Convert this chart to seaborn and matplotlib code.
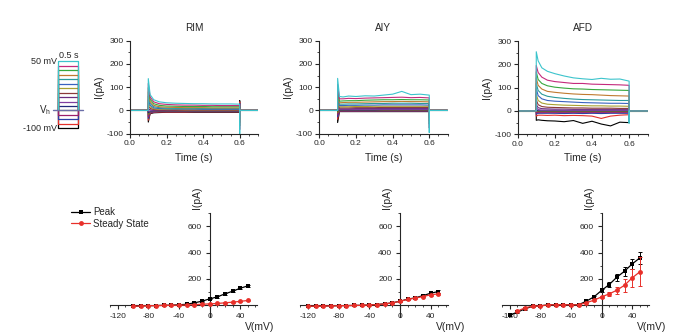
import matplotlib
matplotlib.use("Agg")
import matplotlib.pyplot as plt
import pandas as pd
import seaborn as sns
from matplotlib.ticker import MultipleLocator

sns.set_theme(style="ticks")
plt.rcParams["font.family"] = ["Liberation Sans", "DejaVu Sans"]
plt.rcParams["axes.unicode_minus"] = False

# ---------------- data ----------------
STEP_MV = [-100, -90, -80, -70, -60, -50, -40, -30, -20, -10, 0, 10, 20, 30, 40, 50]
TRACE_COLORS = ["#000000", "#e3302a", "#2c3fa8", "#9b1f6a", "#7d7a1f", "#222a7c",
                "#8040a0", "#6a2d80", "#8c3a3a", "#a8a030", "#3a62c0", "#2a9a9a",
                "#c07a30", "#36a83e", "#c42a7c", "#3cc4cc"]
HOLD_MV = -60
PANEL_TITLES = ["RIM", "AIY", "AFD"]
T_STEP = [0.1, 0.11, 0.13, 0.16, 0.2, 0.25, 0.3, 0.35, 0.4, 0.45, 0.5, 0.55, 0.6]

# current traces (pA) at T_STEP, one row per voltage step (-100 ... 50 mV)
RIM_TRACES = [
    [-50, -14, -10, -9, -8, -8, -8, -8, -8, -8, -8, -8, -8],
    [-42, -12, -8, -7, -7, -7, -7, -6, -6, -6, -6, -6, -6],
    [-34, -10, -6, -5, -5, -5, -5, -5, -5, -5, -5, -5, -5],
    [-26, -8, -5, -4, -4, -4, -4, -4, -4, -4, -4, -4, -4],
    [-18, -6, -3, -3, -3, -3, -3, -3, -3, -3, -3, -3, -3],
    [-10, -4, -2, -2, -2, -2, -2, -2, -2, -2, -2, -2, -2],
    [-3, -2, -1, -1, -1, -1, -1, -1, -1, -1, -1, -1, -1],
    [6, 3, 1, 0, 0, 0, 0, 0, 0, 0, 0, 0, 0],
    [18, 9, 4, 2, 2, 1, 1, 1, 1, 1, 1, 1, 1],
    [32, 15, 7, 5, 4, 4, 3, 3, 3, 3, 3, 3, 3],
    [46, 22, 11, 8, 7, 6, 6, 6, 5, 5, 5, 5, 5],
    [62, 30, 16, 12, 10, 9, 9, 9, 8, 8, 8, 8, 8],
    [80, 38, 22, 16, 14, 13, 12, 12, 12, 11, 11, 11, 11],
    [98, 48, 29, 22, 19, 18, 17, 17, 17, 16, 16, 16, 16],
    [116, 58, 37, 29, 26, 24, 23, 23, 22, 22, 21, 21, 21],
    [137, 68, 46, 37, 33, 31, 30, 29, 29, 28, 28, 28, 27],
]
RIM_OFF = [42, 36, 30, 25, 20, 15, 10, 5, -5, -15, -25, -38, -52, -66, -82, -100]

AIY_TRACES = [
    [-52, -5, -5, -5, -5, -5, -5, -5, -5, -5, -5, -5, -5],
    [-38, -3, -3, -3, -3, -3, -3, -3, -3, -3, -3, -3, -3],
    [-28, -2, -2, -2, -2, -2, -2, -2, -2, -2, -2, -2, -2],
    [-18, -1, -1, -1, -1, -1, 0, 0, 0, 0, 0, 0, 0],
    [-10, 0, 0, 1, 1, 1, 1, 1, 1, 1, 1, 1, 1],
    [-2, 2, 2, 2, 2, 2, 2, 3, 3, 3, 3, 3, 3],
    [6, 4, 4, 4, 4, 5, 5, 5, 5, 5, 5, 5, 5],
    [14, 7, 7, 7, 8, 8, 8, 8, 8, 8, 8, 8, 8],
    [24, 11, 11, 11, 12, 12, 12, 13, 13, 13, 13, 13, 13],
    [36, 16, 16, 16, 17, 17, 18, 18, 18, 18, 18, 18, 18],
    [48, 21, 21, 22, 22, 23, 23, 24, 24, 24, 24, 24, 23],
    [62, 27, 27, 28, 28, 29, 30, 30, 31, 31, 31, 30, 30],
    [76, 33, 34, 35, 35, 36, 37, 38, 38, 39, 38, 38, 37],
    [92, 40, 41, 42, 42, 44, 45, 46, 46, 47, 46, 46, 45],
    [112, 50, 50, 52, 51, 53, 54, 55, 56, 57, 55, 56, 54],
    [138, 60, 58, 62, 60, 63, 62, 66, 70, 82, 68, 70, 66],
]
AIY_OFF = [30, 26, 22, 18, 14, 10, 6, 2, -6, -14, -22, -32, -44, -58, -75, -95]

AFD_TRACES = [
    [-40, -38, -40, -42, -43, -46, -41, -53, -44, -56, -64, -48, -50],
    [-22, -18, -18, -19, -18, -20, -19, -20, -22, -32, -22, -18, -16],
    [-14, -10, -10, -10, -10, -11, -10, -11, -10, -11, -10, -10, -10],
    [-8, -6, -6, -6, -6, -6, -6, -6, -6, -6, -6, -6, -6],
    [-2, -2, -2, -2, -2, -2, -2, -2, -2, -2, -2, -2, -2],
    [5, 1, 1, 1, 1, 1, 1, 1, 1, 1, 1, 1, 1],
    [14, 6, 4, 4, 4, 3, 3, 3, 3, 3, 3, 3, 3],
    [28, 14, 10, 9, 8, 8, 7, 7, 7, 7, 7, 7, 7],
    [48, 27, 19, 16, 15, 14, 13, 13, 12, 12, 12, 11, 11],
    [72, 45, 34, 29, 27, 25, 24, 23, 22, 22, 21, 21, 20],
    [96, 66, 52, 45, 42, 40, 38, 36, 35, 34, 33, 33, 32],
    [118, 88, 72, 63, 58, 54, 51, 49, 48, 47, 46, 45, 45],
    [142, 110, 94, 84, 80, 76, 73, 71, 70, 68, 66, 65, 64],
    [168, 135, 118, 108, 102, 98, 95, 94, 92, 91, 90, 89, 88],
    [195, 165, 145, 132, 126, 122, 118, 118, 115, 114, 113, 112, 110],
    [254, 215, 185, 170, 160, 150, 142, 138, 135, 140, 136, 137, 128],
]
AFD_OFF = [10, 8, 6, 4, 2, 0, -2, -4, -6, -10, -14, -20, -26, -34, -42, -52]

# I-V curves
RIM_V = [-100, -90, -80, -70, -60, -50, -40, -30, -20, -10, 0, 10, 20, 30, 40, 50]
RIM_PEAK = [-8, -6, -4, -3, -1, 0, 3, 7, 18, 30, 48, 63, 86, 106, 129, 147]
RIM_PEAK_ERR = [1, 1, 1, 1, 1, 1, 1, 2, 2, 3, 4, 5, 6, 7, 8, 9]
RIM_SS = [-8, -6, -4, -3, -2, -1, 0, 2, 4, 7, 10, 13, 18, 23, 29, 36]
RIM_SS_ERR = [1, 1, 1, 1, 1, 1, 1, 1, 1, 2, 2, 2, 3, 3, 4, 4]

AIY_V = [-120, -110, -100, -90, -80, -70, -60, -50, -40, -30, -20, -10, 0, 10, 20, 30, 40, 50]
AIY_PEAK = [-8, -7, -6, -5, -4, -3, -2, -1, 1, 5, 10, 18, 30, 46, 56, 73, 91, 104]
AIY_PEAK_ERR = [1, 1, 1, 1, 1, 1, 1, 1, 1, 1, 2, 2, 3, 4, 5, 6, 8, 9]
AIY_SS = [-8, -7, -6, -5, -4, -3, -2, -1, 1, 5, 10, 18, 29, 44, 54, 66, 79, 86]
AIY_SS_ERR = [1, 1, 1, 1, 1, 1, 1, 1, 1, 1, 2, 2, 3, 4, 5, 6, 7, 8]

AFD_V = [-120, -110, -100, -90, -80, -70, -60, -50, -40, -30, -20, -10, 0, 10, 20, 30, 40, 50]
AFD_PEAK = [-76, -53, -28, -8, -5, 2, 3, 3, 3, 3, 30, 63, 112, 157, 213, 259, 314, 360]
AFD_PEAK_ERR = [6, 6, 5, 4, 3, 2, 2, 2, 2, 3, 5, 8, 12, 18, 28, 35, 40, 48]
AFD_SS_V = [-110, -100, -90, -80, -70, -60, -50, -40, -30, -20, -10, 0, 10, 20, 30, 40, 50]
AFD_SS = [-46, -20, -8, -5, 2, 3, 3, 3, 3, 18, 38, 63, 86, 114, 152, 208, 254]
AFD_SS_ERR = [5, 4, 3, 3, 2, 2, 2, 2, 2, 4, 6, 10, 16, 28, 50, 68, 110]


def trace_frame(traces, off):
    rows = []
    for k, (vals, o) in enumerate(zip(traces, off)):
        ts = [0.0, 0.1] + T_STEP + [0.6, 0.6, 0.7]
        ys = [0, 0] + list(vals) + [o, 0, 0]
        for t, y in zip(ts, ys):
            rows.append({"t": t, "I": y, "trace": k})
    return pd.DataFrame(rows)


# ---------------- figure ----------------
fig = plt.figure(figsize=(6.98, 3.36), dpi=100)
W, H = 698.0, 336.0


def px_axes(x0, y0, x1, y1):
    return fig.add_axes([x0 / W, 1 - y1 / H, (x1 - x0) / W, (y1 - y0) / H])


palette = {k: c for k, c in enumerate(TRACE_COLORS)}

# ----- protocol schematic -----
axp = px_axes(50, 55, 86, 135)
axp.set_xlim(-0.2075, 0.6925)
axp.set_ylim(-115.3, 64.6)
axp.axis("off")
prow = []
for k, v in enumerate(STEP_MV):
    for x, y in zip([0.0, 0.0, 0.5, 0.5], [HOLD_MV, v, v, HOLD_MV]):
        prow.append({"x": x, "y": y, "trace": k})
pdf = pd.DataFrame(prow)
sns.lineplot(data=pdf, x="x", y="y", hue="trace", palette=palette, estimator=None,
             sort=False, legend=False, lw=0.9, ax=axp)
hold_df = pd.DataFrame({"x": [-0.13, 0.62], "y": [HOLD_MV, HOLD_MV]})
sns.lineplot(data=hold_df, x="x", y="y", color="#6b6fa8", lw=1.0, ax=axp)
axp.text(0.25, 53, "0.5 s", ha="center", va="bottom", fontsize=6.5)
axp.text(-0.035, 49, "50 mV", ha="right", va="center", fontsize=6.5)
axp.text(-0.035, -101, "-100 mV", ha="right", va="center", fontsize=6.5)
axp.text(-0.33, -60, "V$_\\mathregular{h}$", ha="center", va="center", fontsize=7)
axp.set_xlabel("")
axp.set_ylabel("")

# ----- top row: current traces -----
top_pos = [(130, 40.7, 258, 133.7), (319.3, 40.7, 447.6, 133.7), (517.7, 41, 647.7, 134.3)]
all_traces = [(RIM_TRACES, RIM_OFF), (AIY_TRACES, AIY_OFF), (AFD_TRACES, AFD_OFF)]
for (x0, y0, x1, y1), (tr, off), title in zip(top_pos, all_traces, PANEL_TITLES):
    ax = px_axes(x0, y0, x1, y1)
    df = trace_frame(tr, off)
    sns.lineplot(data=df, x="t", y="I", hue="trace", palette=palette, estimator=None,
                 sort=False, legend=False, lw=0.8, ax=ax)
    ax.set_xlim(0, 0.7)
    ax.set_ylim(-100, 300)
    ax.set_xticks([0, 0.2, 0.4, 0.6])
    ax.set_xticklabels(["0.0", "0.2", "0.4", "0.6"])
    ax.set_yticks([-100, 0, 100, 200, 300])
    ax.xaxis.set_minor_locator(MultipleLocator(0.05))
    ax.yaxis.set_minor_locator(MultipleLocator(50))
    ax.set_title(title, fontsize=7.2, pad=7)
    ax.set_xlabel("Time (s)", fontsize=7.4, labelpad=4)
    ax.set_ylabel("I(pA)", fontsize=7.4, labelpad=2)
    for s in ["top", "right"]:
        ax.spines[s].set_visible(False)
    for s in ["left", "bottom"]:
        ax.spines[s].set_linewidth(0.8)
    ax.tick_params(which="major", length=3, width=0.8, labelsize=6, pad=1.5, direction="out")
    ax.tick_params(which="minor", length=1.5, width=0.6, direction="out")

# ----- bottom row: I-V curves -----
bot_pos = [(110, 213.3, 257, 317), (300.2, 213.3, 447.5, 317), (502, 213.3, 649, 317)]
iv_data = [
    (RIM_V, RIM_PEAK, RIM_PEAK_ERR, RIM_V, RIM_SS, RIM_SS_ERR),
    (AIY_V, AIY_PEAK, AIY_PEAK_ERR, AIY_V, AIY_SS, AIY_SS_ERR),
    (AFD_V, AFD_PEAK, AFD_PEAK_ERR, AFD_SS_V, AFD_SS, AFD_SS_ERR),
]
bot_axes = []
for (x0, y0, x1, y1), (vp, pk, pke, vs, ss, sse) in zip(bot_pos, iv_data):
    ax = px_axes(x0, y0, x1, y1)
    bot_axes.append(ax)
    ax.errorbar(vp, pk, yerr=pke, fmt="none", ecolor="black", elinewidth=0.7, capsize=1.2,
                capthick=0.7, zorder=2)
    sns.lineplot(x=vp, y=pk, color="black", marker="s", markersize=3.3, markeredgewidth=0,
                 lw=0.9, label="Peak", ax=ax, zorder=3)
    ax.errorbar(vs, ss, yerr=sse, fmt="none", ecolor="#e8302a", elinewidth=0.7, capsize=1.2,
                capthick=0.7, zorder=4)
    sns.lineplot(x=vs, y=ss, color="#e8302a", marker="o", markersize=3.5, markeredgewidth=0,
                 lw=0.9, label="Steady State", ax=ax, zorder=5)
    ax.set_xlim(-130, 62)
    ax.set_ylim(-90, 700)
    ax.spines["left"].set_position(("data", 0))
    ax.spines["bottom"].set_position(("data", 0))
    for s in ["top", "right"]:
        ax.spines[s].set_visible(False)
    for s in ["left", "bottom"]:
        ax.spines[s].set_linewidth(0.8)
    ax.set_xticks([-120, -80, -40, 0, 40])
    ax.set_yticks([200, 400, 600])
    ax.xaxis.set_minor_locator(MultipleLocator(10))
    ax.yaxis.set_minor_locator(MultipleLocator(100))
    ax.tick_params(which="major", length=3, width=0.8, labelsize=6, pad=2.5, direction="out")
    ax.tick_params(which="minor", length=1.5, width=0.6, direction="out")
    ax.set_xlabel("")
    ax.set_ylabel("")
    ax.text(0.59, 1.15, "I(pA)", rotation=90, ha="center", va="center",
            fontsize=7.4, transform=ax.transAxes)
    ax.text(1.02, -0.095, "V(mV)", ha="center", va="center", fontsize=7.4,
            transform=ax.transAxes)
    if ax.get_legend() is not None:
        ax.get_legend().remove()

leg = bot_axes[0].legend(*bot_axes[0].get_legend_handles_labels(), loc="upper left",
                         bbox_to_anchor=(-0.265, 1.06), frameon=False, fontsize=7,
                         handlelength=2.0, handletextpad=0.3, labelspacing=0.15,
                         borderaxespad=0, borderpad=0)

fig.savefig("out.png", dpi=100)
